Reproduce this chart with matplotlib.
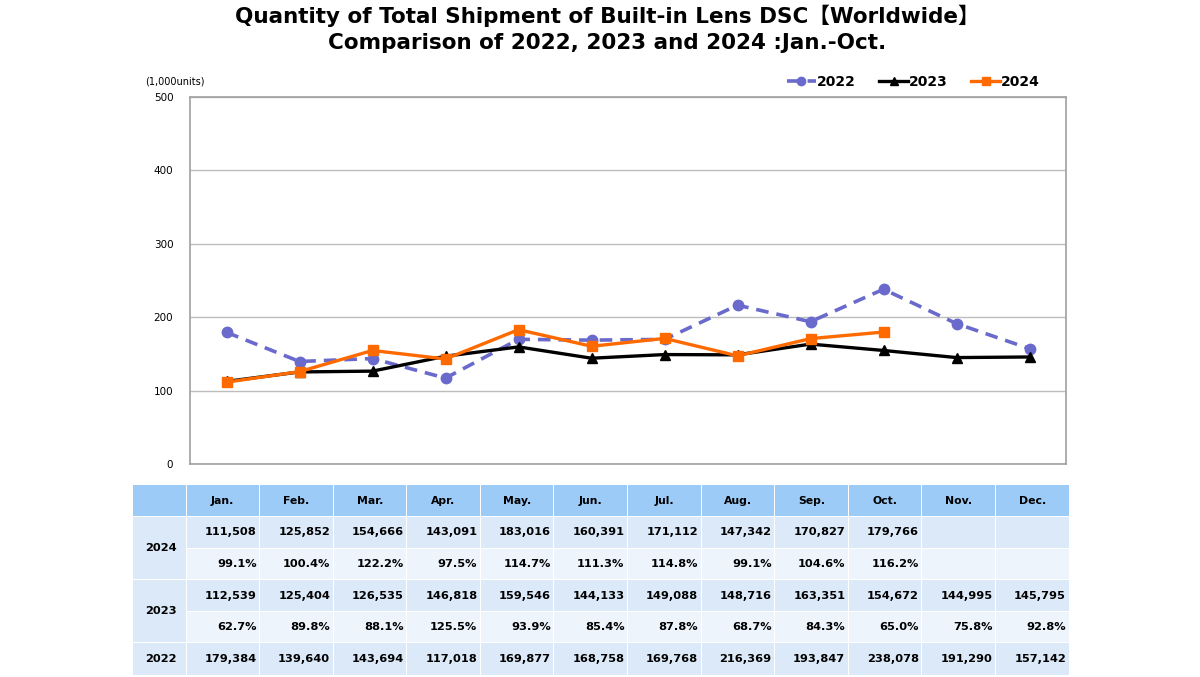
import matplotlib
matplotlib.use("Agg")
import matplotlib.pyplot as plt
from matplotlib.patches import Rectangle

months = ["Jan.", "Feb.", "Mar.", "Apr.", "May.", "Jun.", "Jul.", "Aug.", "Sep.", "Oct.", "Nov.", "Dec."]
v2022 = [179384, 139640, 143694, 117018, 169877, 168758, 169768, 216369, 193847, 238078, 191290, 157142]
v2023 = [112539, 125404, 126535, 146818, 159546, 144133, 149088, 148716, 163351, 154672, 144995, 145795]
v2024 = [111508, 125852, 154666, 143091, 183016, 160391, 171112, 147342, 170827, 179766]
yticks = [0, 100, 200, 300, 400, 500]

W, H = 1200, 677
fig = plt.figure(figsize=(W / 100, H / 100), dpi=100)
fam = ["DejaVu Sans", "Noto Sans CJK JP"]

def fbox(x0, y0, x1, y1):
    return [x0 / W, 1 - y1 / H, (x1 - x0) / W, (y1 - y0) / H]

# ---- chart
ax = fig.add_axes(fbox(190, 97, 1066, 464))
x = list(range(12))
ax.plot(x, [v / 1000 for v in v2022], color="#6A6ACD", lw=2.6, ls=(0, (3.5, 2.2)),
        marker="o", ms=7.5, label="2022", zorder=3)
ax.plot(x, [v / 1000 for v in v2023], color="black", lw=2.4, marker="^", ms=7,
        label="2023", zorder=4)
ax.plot(x[:len(v2024)], [v / 1000 for v in v2024], color="#FF6A00", lw=2.4, marker="s",
        ms=7, label="2024", zorder=5)
ax.set_xlim(-0.5, 11.5)
ax.set_ylim(0, 500)
ax.set_yticks(yticks)
ax.set_xticks([])
ax.tick_params(axis="y", length=0, labelsize=7.5, pad=12)
ax.grid(axis="y", color="#BDBDBD", lw=1)
for s in ax.spines.values():
    s.set_color("#A0A0A0")
    s.set_linewidth(1.2)

fig.text(145 / W, 1 - 82 / H, "(1,000units)", fontsize=7, va="center", ha="left", family=fam)

leg = fig.legend(loc="center right", bbox_to_anchor=(1040 / W, 1 - 82 / H), ncol=3,
                 frameon=False, handlelength=2.1, columnspacing=1.7, handletextpad=0.05,
                 markerscale=0.8, borderaxespad=0, borderpad=0,
                 prop={"weight": "bold", "size": 10})

fig.text(607 / W, 1 - 16 / H, "Quantity of Total Shipment of Built-in Lens DSC\u3010Worldwide\u3011",
         ha="center", va="center", fontsize=15.5, fontweight="bold", family=fam)
fig.text(607 / W, 1 - 43 / H, "Comparison of 2022, 2023 and 2024 :Jan.-Oct.",
         ha="center", va="center", fontsize=15.5, fontweight="bold", family=fam)

# ---- table
tx0, tx1, ty0, ty1 = 132, 1069, 485, 676
tb = fig.add_axes(fbox(tx0, ty0, tx1, ty1))
tb.set_xlim(tx0, tx1)
tb.set_ylim(ty1, ty0)
tb.axis("off")

colw = (tx1 - 186) / 12
col_edges = [tx0, 186] + [186 + colw * (i + 1) for i in range(12)]
row_edges = [485, 516.5, 548.5, 580, 611.5, 643, 676]
hdr_c = "#9CCBF7"
val_c = "#DCE9F8"
pct_c = "#EDF4FC"
year_c = "#DCE9F8"
gap = 1.0

def cell(x0, x1, y0, y1, c):
    tb.add_patch(Rectangle((x0 + gap / 2, y0 + gap / 2), x1 - x0 - gap, y1 - y0 - gap,
                           facecolor=c, edgecolor="none"))

# header
for i in range(13):
    cell(col_edges[i], col_edges[i + 1], row_edges[0], row_edges[1], hdr_c)
    if i > 0:
        tb.text((col_edges[i] + col_edges[i + 1]) / 2, (row_edges[0] + row_edges[1]) / 2,
                months[i - 1], ha="center", va="center", fontsize=7.8, fontweight="bold")

rows = []
rows.append(["{:,}".format(v) for v in v2024])
rows.append(["{:.1f}%".format(a / b * 100) for a, b in zip(v2024, v2023)])
rows.append(["{:,}".format(v) for v in v2023])
rows.append(["{:.1f}%".format(a / b * 100) for a, b in zip(v2023, v2022)])
rows.append(["{:,}".format(v) for v in v2022])
row_cols = [val_c, pct_c, val_c, pct_c, val_c]

for r, (vals, c) in enumerate(zip(rows, row_cols)):
    y0, y1 = row_edges[r + 1], row_edges[r + 2]
    for j in range(12):
        cell(col_edges[j + 1], col_edges[j + 2], y0, y1, c)
        if j < len(vals):
            tb.text(col_edges[j + 2] - 3, (y0 + y1) / 2, vals[j], ha="right", va="center",
                    fontsize=8.2, fontweight="bold")

years = [("2024", 1, 3), ("2023", 3, 5), ("2022", 5, 6)]
for name, a, b in years:
    cell(col_edges[0], col_edges[1], row_edges[a], row_edges[b], year_c)
    tb.text(col_edges[0] + 13, (row_edges[a] + row_edges[b]) / 2, name, ha="left",
            va="center", fontsize=8.2, fontweight="bold")

fig.savefig("out.png", dpi=100)
